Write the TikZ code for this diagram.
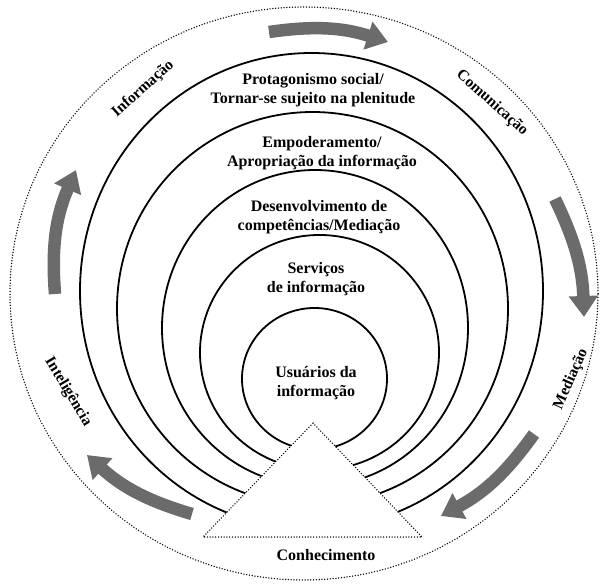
\documentclass[tikz,border=0pt]{standalone}
\usepackage{fontspec}
\setmainfont{Liberation Serif}
\usetikzlibrary{arrows.meta}
\begin{document}
\begin{tikzpicture}[x=1pt,y=1pt,
  ring/.style={line width=1.8pt, draw=black},
  dotline/.style={line width=1.5pt, dash pattern=on 0pt off 2.8pt, line cap=round},
  lbl/.style={font=\fontsize{16}{19.5}\selectfont\bfseries, align=center, inner sep=0pt},
  side/.style={font=\fontsize{15.5}{18}\selectfont\bfseries, inner sep=0pt},
  flow/.style={line width=12.5pt, draw=black!58, -{Triangle[width=28pt,length=21pt]}}
]
\useasboundingbox (0,0) rectangle (603,-585);
\coordinate (C) at (304,-293.5);
\draw[dotline] (C) ellipse [x radius=294, y radius=286.5];

\coordinate (apex) at (313,-423);
\coordinate (bl) at (203,-537);
\coordinate (br) at (422,-537);

\begin{scope}
\clip (0,-585) -- (bl) -- (apex) -- (br) -- (603,-585) -- (603,0) -- (0,0) -- cycle;
\draw[ring] (311.5,-291) ellipse [x radius=231.5, y radius=238];
\draw[ring] (312.5,-308.6) ellipse [x radius=195.5, y radius=196.6];
\draw[ring] (315,-328) ellipse [x radius=153, y radius=158];
\draw[ring] (319.5,-352.4) ellipse [x radius=119.5, y radius=117.4];
\draw[ring] (314.5,-378.7) ellipse [x radius=72.5, y radius=70.7];
\end{scope}

\draw[dotline] (apex) -- (br) -- (bl) -- cycle;

\node[lbl] (t1) at (313,-90) {Protagonismo social/\\Tornar-se sujeito na plenitude};
\node[lbl] (t2) at (322,-153) {Empoderamento/\\Apropriação da informação};
\node[lbl] (t3) at (319,-217) {Desenvolvimento de\\competências/Mediação};
\node[lbl] (t4) at (316,-279) {Serviços\\de informação};
\node[lbl] (t5) at (316,-383) {Usuários da\\informação};
\node[lbl] (t6) at (326,-555) {Conhecimento};

\node[side, rotate=42] (info) at (143,-89) {Informação};
\node[side, rotate=-42] (comm) at (492,-103) {Comunicação};
\node[side, rotate=-59] (intel) at (68,-392) {Inteligência};
\node[side, rotate=66] (med) at (571,-379) {Mediação};

\coordinate (a1s) at (269,-32);  \coordinate (a1e) at (388,-42);
\coordinate (a2s) at (555,-199); \coordinate (a2e) at (584,-317);
\coordinate (a3s) at (534,-434); \coordinate (a3e) at (441,-516);
\coordinate (a4s) at (192,-514); \coordinate (a4e) at (87,-455);
\coordinate (a5s) at (55,-294);  \coordinate (a5e) at (76,-170);
\draw[flow] (a1s) to[bend left=13] (a1e);
\draw[flow] (a2s) to[bend left=12] (a2e);
\draw[flow] (a3s) to[bend left=13] (a3e);
\draw[flow] (a4s) to[bend left=13] (a4e);
\draw[flow] (a5s) to[bend left=14] (a5e);
\end{tikzpicture}
\end{document}
